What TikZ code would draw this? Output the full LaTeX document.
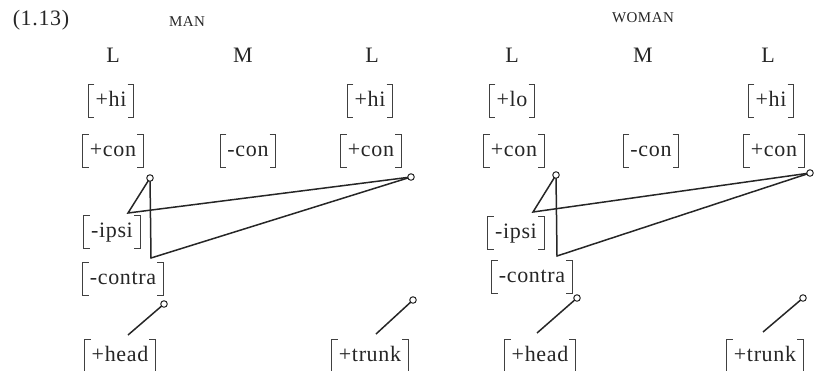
\documentclass[tikz,border=0pt]{standalone}
\usepackage{fontspec}
\setmainfont{Liberation Serif}[LetterSpace=3]
\newcommand\featbox[3]{%
  \node[feat] (#1) at (#2) {#3};
  \draw[brk] ([xshift=6pt]#1.north west) -- (#1.north west) -- (#1.south west) -- ([xshift=6pt]#1.south west);
  \draw[brk] ([xshift=-6pt]#1.north east) -- (#1.north east) -- (#1.south east) -- ([xshift=-6pt]#1.south east);}
\begin{document}
\begin{tikzpicture}[x=1pt,y=-1pt,
  lab/.style={font=\fontsize{22}{24}\selectfont, inner sep=0pt, text=black!85},
  smallcaplab/.style={font=\fontsize{15}{16}\selectfont, inner sep=0pt, text=black!85},
  feat/.style={font=\fontsize{22}{24}\selectfont, text=black!85, inner xsep=7pt, inner ysep=0pt,
     text height=16pt, text depth=5pt, minimum height=32pt},
  brk/.style={line width=0.9pt, black!75},
  ln/.style={line width=1.5pt, black!85},
  pin/.style={circle, draw=black!85, line width=1pt, fill=white, inner sep=0pt, minimum size=6.5pt}]
\useasboundingbox (0,0) rectangle (814,370);
% headings
\node[lab] (num) at (41,20) {(1.13)};
\node[smallcaplab] (man) at (187,22) {MAN};
\node[smallcaplab] (woman) at (643,18) {WOMAN};
% tones
\node[lab] (L1) at (113,55) {L};
\node[lab] (M1) at (243,55) {M};
\node[lab] (L2) at (372,55) {L};
\node[lab] (L3) at (512,55) {L};
\node[lab] (M2) at (643,55) {M};
\node[lab] (L4) at (768,55) {L};
% height features
\featbox{hiA}{111,101}{+hi}
\featbox{hiB}{370,101}{+hi}
\featbox{loC}{512,101}{+lo}
\featbox{hiD}{771,101}{+hi}
% contour features
\featbox{conA}{113,151}{+con}
\featbox{conB}{248,151}{-con}
\featbox{conC}{371,151}{+con}
\featbox{conD}{514,151}{+con}
\featbox{conE}{651,151}{-con}
\featbox{conF}{774,151}{+con}
% location features
\featbox{ipsiA}{112,232}{-ipsi}
\featbox{contraA}{123,279}{-contra}
\featbox{ipsiB}{516,233}{-ipsi}
\featbox{contraB}{532,277}{-contra}
\featbox{headA}{120,356}{+head}
\featbox{trunkA}{370,356}{+trunk}
\featbox{headB}{540,356}{+head}
\featbox{trunkB}{765,356}{+trunk}
% MAN association lines
\coordinate (pA) at (128,213);
\coordinate (qA) at (151,258);
\coordinate (hA) at (128,335);
\coordinate (tA) at (376,334);
\coordinate (cA) at (150,178);
\coordinate (cB) at (411,177);
\coordinate (dA) at (164,304);
\coordinate (dB) at (413,300);
\draw[ln] (cA) -- (pA) -- (cB);
\draw[ln] (cA) -- (qA) -- (cB);
\draw[ln] (dA) -- (hA);
\draw[ln] (dB) -- (tA);
\node[pin] (oA) at (cA) {};
\node[pin] (oB) at (cB) {};
\node[pin] (oC) at (dA) {};
\node[pin] (oD) at (dB) {};
% WOMAN association lines
\coordinate (pB) at (533,212);
\coordinate (qB) at (557,256);
\coordinate (hB) at (537,333);
\coordinate (tB) at (763,332);
\coordinate (cC) at (556,175);
\coordinate (cD) at (810,173);
\coordinate (dC) at (577,298);
\coordinate (dD) at (803,298);
\draw[ln] (cC) -- (pB) -- (cD);
\draw[ln] (cC) -- (qB) -- (cD);
\draw[ln] (dC) -- (hB);
\draw[ln] (dD) -- (tB);
\node[pin] (oE) at (cC) {};
\node[pin] (oF) at (cD) {};
\node[pin] (oG) at (dC) {};
\node[pin] (oH) at (dD) {};
\end{tikzpicture}
\end{document}
